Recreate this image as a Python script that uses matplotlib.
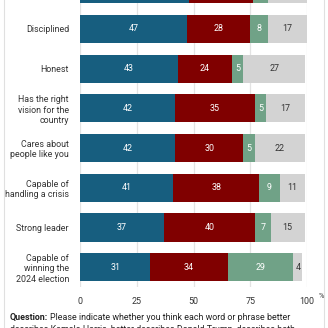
import matplotlib
matplotlib.use("Agg")
import matplotlib.pyplot as plt
from matplotlib.patches import Rectangle
import numpy as np

plt.rcParams['font.family'] = ['Roboto', 'DejaVu Sans']

categories = ["Trustworthy", "Disciplined", "Honest", "Has the right\nvision for the\ncountry",
              "Cares about\npeople like you", "Capable of\nhandling a crisis", "Strong leader",
              "Capable of\nwinning the\n2024 election"]
harris = [48, 47, 43, 42, 42, 41, 37, 31]
trump = [28, 28, 24, 35, 30, 38, 40, 34]
both = [7, 8, 5, 5, 5, 9, 7, 29]
neither = [17, 17, 27, 17, 22, 11, 15, 4]
xticks = [0, 25, 50, 75, 100]

colors = ["#175e7f", "#800000", "#70a287", "#d3d3d3"]
series = [harris, trump, both, neither]
txtcol = ["white", "white", "white", "#333333"]
FS = 6.4

fig = plt.figure(figsize=(3.28, 3.28), dpi=100)
W = H = 328.0
left_px, right_px = 80, 307
bottom_px = 287
row_px = 39.7
top_px = bottom_px - 8 * row_px
ax = fig.add_axes([left_px / W, 1 - bottom_px / H, (right_px - left_px) / W, (bottom_px - top_px) / H])

y = np.arange(len(categories))
lefts = np.zeros(len(categories))
for vals, c, tc in zip(series, colors, txtcol):
    vals = np.array(vals)
    ax.barh(y, vals, left=lefts, color=c, height=0.71, zorder=2)
    for yi, (l, v) in enumerate(zip(lefts, vals)):
        if yi == 0:
            continue  # hidden above the visible area in the reference
        ax.text(l + v / 2, yi, str(v), ha='center', va='center', color=tc, fontsize=FS, zorder=3)
    lefts = lefts + vals

ax.set_ylim(len(categories) - 0.5, -0.5)
ax.set_xlim(0, 100)
ax.set_yticks(y)
ax.set_yticklabels(categories, fontsize=FS, color="#333333", linespacing=1.2)
ax.set_xticks(xticks)
ax.set_xticklabels([str(t) for t in xticks], fontsize=FS, color="#333333")
ax.tick_params(length=0, pad=8)
ax.tick_params(axis='x', pad=7)
for s in ax.spines.values():
    s.set_visible(False)
ax.xaxis.grid(True, color="#e3e3e3", linewidth=0.9, zorder=0)
ax.set_axisbelow(True)

fig.text(321 / W, 1 - 296 / H, "%", fontsize=5.3, color="#333333", ha='center', va='center')

q = fig.text(10 / W, 1 - 317 / H, "Question:", fontsize=FS, fontweight='bold', color="#222222", va='center')
fig.canvas.draw()
bb = q.get_window_extent(renderer=fig.canvas.get_renderer())
x_after = (bb.x1 + 2) / W
fig.text(x_after, 1 - 317 / H, "Please indicate whether you think each word or phrase better",
         fontsize=FS, color="#222222", va='center')
fig.text(10 / W, 1 - 329.5 / H, "describes Kamala Harris, better describes Donald Trump, describes both",
         fontsize=FS, color="#222222", va='center')

fig.patches.append(Rectangle((4 / W, -0.5), 320 / W, 2.0, transform=fig.transFigure,
                             fill=False, edgecolor="#e0e0e0", linewidth=0.8))

fig.savefig("out.png", dpi=100)
